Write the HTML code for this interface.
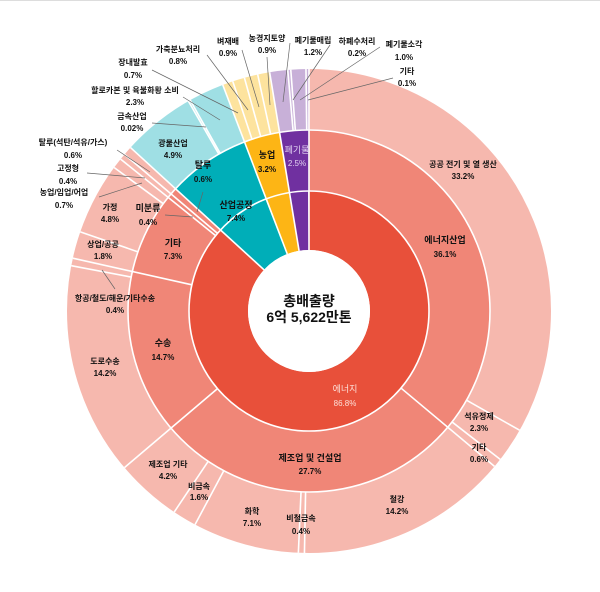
<!DOCTYPE html>
<html><head><meta charset="utf-8"><style>
html,body{margin:0;padding:0;background:#fff;}
svg{display:block;}
text{font-family:"Liberation Sans","Noto Sans CJK KR",sans-serif;text-anchor:middle;font-weight:bold;fill:#111;}
.s{font-size:8px;}
.m{font-size:9px;}
.ln{stroke:#666;stroke-width:0.7;fill:none;}
.sep{stroke:#fff;stroke-width:1.6;}
</style></head><body>
<svg width="600" height="592" viewBox="0 0 600 592" xmlns="http://www.w3.org/2000/svg">
<rect width="600" height="592" fill="#fff"/>
<line x1="0" y1="0.5" x2="600" y2="0.5" stroke="#ddd"/>
<g transform="rotate(-90 309 311)" fill="none">
<!-- inner ring -->
<g stroke-width="59">
<circle cx="309" cy="311" r="90.5" pathLength="100" stroke="#e8503a" stroke-dasharray="86.8 1000" stroke-dashoffset="0"/>
<circle cx="309" cy="311" r="90.5" pathLength="100" stroke="#00aeb8" stroke-dasharray="7.4 1000" stroke-dashoffset="-86.8"/>
<circle cx="309" cy="311" r="90.5" pathLength="100" stroke="#fdb515" stroke-dasharray="3.2 1000" stroke-dashoffset="-94.2"/>
<circle cx="309" cy="311" r="90.5" pathLength="100" stroke="#7030a0" stroke-dasharray="2.6 1000" stroke-dashoffset="-97.4"/>
</g>
<!-- middle ring -->
<g stroke-width="61">
<circle cx="309" cy="311" r="150.5" pathLength="100" stroke="#f08677" stroke-dasharray="86.8 1000" stroke-dashoffset="0"/>
<circle cx="309" cy="311" r="150.5" pathLength="100" stroke="#00aeb8" stroke-dasharray="7.4 1000" stroke-dashoffset="-86.8"/>
<circle cx="309" cy="311" r="150.5" pathLength="100" stroke="#fdb515" stroke-dasharray="3.2 1000" stroke-dashoffset="-94.2"/>
<circle cx="309" cy="311" r="150.5" pathLength="100" stroke="#7030a0" stroke-dasharray="2.6 1000" stroke-dashoffset="-97.4"/>
</g>
<!-- outer ring -->
<g stroke-width="61">
<circle cx="309" cy="311" r="211.5" pathLength="100" stroke="#f6b8ae" stroke-dasharray="86.8 1000" stroke-dashoffset="0"/>
<circle cx="309" cy="311" r="211.5" pathLength="100" stroke="#9fdfe4" stroke-dasharray="7.4 1000" stroke-dashoffset="-86.8"/>
<circle cx="309" cy="311" r="211.5" pathLength="100" stroke="#fde39e" stroke-dasharray="3.2 1000" stroke-dashoffset="-94.2"/>
<circle cx="309" cy="311" r="211.5" pathLength="100" stroke="#c8b0d8" stroke-dasharray="2.6 1000" stroke-dashoffset="-97.4"/>
</g>
</g>
<!-- ring borders -->
<circle cx="309" cy="311" r="61" fill="#fff"/>
<circle cx="309" cy="311" r="120" fill="none" stroke="#fff" stroke-width="1.6"/>
<circle cx="309" cy="311" r="181" fill="none" stroke="#fff" stroke-width="1.6"/>
<!-- separators -->
<g class="sep">
<line x1="309" y1="250" x2="309" y2="69" transform="rotate(0 309 311)"/>
<line x1="309" y1="250" x2="309" y2="69" transform="rotate(312.48 309 311)"/>
<line x1="309" y1="250" x2="309" y2="69" transform="rotate(339.12 309 311)"/>
<line x1="309" y1="250" x2="309" y2="69" transform="rotate(350.64 309 311)"/>
<line x1="309" y1="191" x2="309" y2="69" transform="rotate(129.96 309 311)"/>
<line x1="309" y1="191" x2="309" y2="69" transform="rotate(229.68 309 311)"/>
<line x1="309" y1="191" x2="309" y2="69" transform="rotate(282.6 309 311)"/>
<line x1="309" y1="191" x2="309" y2="69" transform="rotate(308.88 309 311)"/>
<line x1="309" y1="191" x2="309" y2="69" transform="rotate(310.32 309 311)"/>
<line x1="309" y1="130" x2="309" y2="69" transform="rotate(119.52 309 311)"/>
<line x1="309" y1="130" x2="309" y2="69" transform="rotate(127.8 309 311)"/>
<line x1="309" y1="130" x2="309" y2="69" transform="rotate(181.08 309 311)"/>
<line x1="309" y1="130" x2="309" y2="69" transform="rotate(182.52 309 311)"/>
<line x1="309" y1="130" x2="309" y2="69" transform="rotate(208.08 309 311)"/>
<line x1="309" y1="130" x2="309" y2="69" transform="rotate(213.84 309 311)"/>
<line x1="309" y1="130" x2="309" y2="69" transform="rotate(280.8 309 311)"/>
<line x1="309" y1="130" x2="309" y2="69" transform="rotate(289.08 309 311)"/>
<line x1="309" y1="130" x2="309" y2="69" transform="rotate(306.36 309 311)"/>
<line x1="309" y1="130" x2="309" y2="69" transform="rotate(330.12 309 311)"/>
<line x1="309" y1="130" x2="309" y2="69" transform="rotate(330.6 309 311)"/>
<line x1="309" y1="130" x2="309" y2="69" transform="rotate(341.64 309 311)"/>
<line x1="309" y1="130" x2="309" y2="69" transform="rotate(344.52 309 311)"/>
<line x1="309" y1="130" x2="309" y2="69" transform="rotate(347.76 309 311)"/>
<line x1="309" y1="130" x2="309" y2="69" transform="rotate(354.96 309 311)"/>
<line x1="309" y1="130" x2="309" y2="69" transform="rotate(355.68 309 311)"/>
<line x1="309" y1="130" x2="309" y2="69" transform="rotate(359.28 309 311)"/>
</g>
<!-- leader lines -->
<g class="ln">
<line x1="102" y1="270" x2="115" y2="289"/>
<line x1="165" y1="215" x2="193" y2="217"/>
<line x1="203" y1="192" x2="197" y2="212"/>
<line x1="152" y1="123" x2="206" y2="127"/>
<line x1="183" y1="97" x2="220" y2="120"/>
<line x1="152" y1="70" x2="238" y2="113"/>
<line x1="207" y1="55" x2="248" y2="110"/>
<line x1="242" y1="50" x2="259" y2="107"/>
<line x1="267" y1="57" x2="270" y2="105"/>
<line x1="290" y1="43" x2="283" y2="102"/>
<line x1="330" y1="45" x2="293" y2="100"/>
<line x1="380" y1="47" x2="300" y2="100"/>
<line x1="393" y1="78" x2="308" y2="100"/>
<line x1="117" y1="150" x2="150" y2="172"/>
<line x1="87" y1="173" x2="145" y2="178"/>
<line x1="99" y1="197" x2="142" y2="183"/>
</g>
<!-- center -->
<text x="309" y="306" style="font-size:14px">총배출량</text>
<text x="309" y="322" style="font-size:14px">6억 5,622만톤</text>
<!-- inner labels -->
<text x="345" y="392" class="m" style="font-weight:normal;fill:#fde0d8">에너지</text>
<text x="345" y="406" class="s" style="font-weight:normal;fill:#fde0d8">86.8%</text>
<text x="236" y="208" class="m">산업공정</text><text x="236" y="221" class="s">7.4%</text>
<text x="267" y="158" class="m">농업</text><text x="267" y="172" class="s">3.2%</text>
<text x="297" y="153" class="m" style="font-weight:normal;fill:#e0d0f0">폐기물</text><text x="297" y="166" class="s" style="font-weight:normal;fill:#e0d0f0">2.5%</text>
<!-- middle labels -->
<text x="445" y="243" class="m">에너지산업</text><text x="445" y="257" class="s">36.1%</text>
<text x="310" y="461" class="m">제조업 및 건설업</text><text x="310" y="474" class="s">27.7%</text>
<text x="163" y="346" class="m">수송</text><text x="163" y="360" class="s">14.7%</text>
<text x="173" y="246" class="m">기타</text><text x="173" y="259" class="s">7.3%</text>
<text x="148" y="211" class="m">미분류</text><text x="148" y="225" class="s">0.4%</text>
<text x="203" y="168" class="m">탈루</text><text x="203" y="182" class="s">0.6%</text>
<!-- outer labels -->
<text x="463" y="167" class="s">공공 전기 및 열 생산</text><text x="463" y="179" class="s">33.2%</text>
<text x="479" y="419" class="s">석유정제</text><text x="479" y="431" class="s">2.3%</text>
<text x="479" y="450" class="s">기타</text><text x="479" y="462" class="s">0.6%</text>
<text x="397" y="502" class="s">철강</text><text x="397" y="514" class="s">14.2%</text>
<text x="301" y="521" class="s">비철금속</text><text x="301" y="534" class="s">0.4%</text>
<text x="252" y="514" class="s">화학</text><text x="252" y="526" class="s">7.1%</text>
<text x="199" y="489" class="s">비금속</text><text x="199" y="500" class="s">1.6%</text>
<text x="168" y="467" class="s">제조업 기타</text><text x="168" y="479" class="s">4.2%</text>
<text x="105" y="364" class="s">도로수송</text><text x="105" y="376" class="s">14.2%</text>
<text x="115" y="301" class="s">항공/철도/해운/기타수송</text><text x="115" y="313" class="s">0.4%</text>
<text x="103" y="247" class="s">상업/공공</text><text x="103" y="259" class="s">1.8%</text>
<text x="110" y="210" class="s">가정</text><text x="110" y="222" class="s">4.8%</text>
<text x="64" y="195" class="s">농업/임업/어업</text><text x="64" y="208" class="s">0.7%</text>
<text x="68" y="171" class="s">고정형</text><text x="68" y="184" class="s">0.4%</text>
<text x="73" y="145" class="s">탈루(석탄/석유/가스)</text><text x="73" y="158" class="s">0.6%</text>
<text x="173" y="146" class="s">광물산업</text><text x="173" y="158" class="s">4.9%</text>
<text x="132" y="119" class="s">금속산업</text><text x="132" y="131" class="s">0.02%</text>
<text x="135" y="93" class="s">할로카본 및 육불화황 소비</text><text x="135" y="105" class="s">2.3%</text>
<text x="133" y="65" class="s">장내발효</text><text x="133" y="78" class="s">0.7%</text>
<text x="178" y="52" class="s">가축분뇨처리</text><text x="178" y="64" class="s">0.8%</text>
<text x="228" y="44" class="s">벼재배</text><text x="228" y="56" class="s">0.9%</text>
<text x="267" y="41" class="s">농경지토양</text><text x="267" y="53" class="s">0.9%</text>
<text x="313" y="43" class="s">폐기물매립</text><text x="313" y="55" class="s">1.2%</text>
<text x="357" y="44" class="s">하폐수처리</text><text x="357" y="56" class="s">0.2%</text>
<text x="404" y="47" class="s">폐기물소각</text><text x="404" y="60" class="s">1.0%</text>
<text x="407" y="74" class="s">기타</text><text x="407" y="86" class="s">0.1%</text>
</svg>
</body></html>
